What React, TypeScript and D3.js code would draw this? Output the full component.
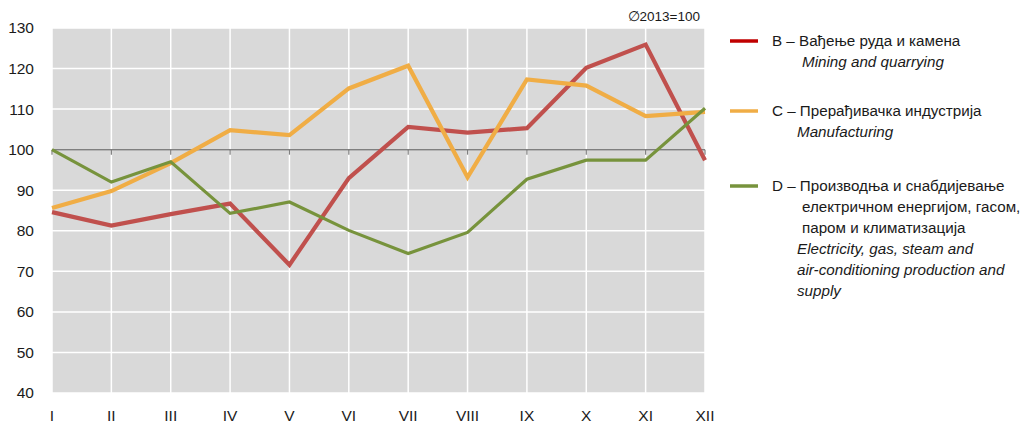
import React from "react";
import * as d3 from "d3";

const months = ["I", "II", "III", "IV", "V", "VI", "VII", "VIII", "IX", "X", "XI", "XII"];
const mining = [84.6, 81.3, 84.1, 86.7, 71.6, 93.0, 105.6, 104.2, 105.3, 120.2, 125.9, 97.4];
const manufacturing = [85.6, 89.8, 96.7, 104.8, 103.6, 115.1, 120.7, 93.2, 117.3, 115.8, 108.3, 109.3];
const energy = [100.0, 92.0, 97.0, 84.3, 87.1, 80.1, 74.4, 79.6, 92.7, 97.4, 97.4, 110.2];
const yTicks = [40, 50, 60, 70, 80, 90, 100, 110, 120, 130];

const seriesList = [
  { name: "B", values: mining, color: "#C0504D", width: 4.2 },
  { name: "C", values: manufacturing, color: "#F0AD45", width: 4.2 },
  { name: "D", values: energy, color: "#77933C", width: 3.2 },
];

const legendItems = [
  { color: "#C00000", y: 41, lines: [{ t: "B – Вађење руда и камена", x: 772, it: false }, { t: "Mining and quarrying", x: 802, it: true }] },
  { color: "#F0AD45", y: 111, lines: [{ t: "C – Прерађивачка индустрија", x: 772, it: false }, { t: "Manufacturing", x: 797, it: true }] },
  {
    color: "#77933C",
    y: 186,
    lines: [
      { t: "D – Производња и снабдијевање", x: 772, it: false },
      { t: "електричном енергијом, гасом,", x: 802, it: false },
      { t: "паром и климатизација", x: 802, it: false },
      { t: "Electricity, gas, steam and", x: 797, it: true },
      { t: "air-conditioning production and", x: 797, it: true },
      { t: "supply", x: 797, it: true },
    ],
  },
];

export default function App() {
  const W = 1023, H = 425;
  const left = 52, right = 705, top = 28, bottom = 393;
  const x = d3.scalePoint<string>().domain(months).range([left, right]);
  const y = d3.scaleLinear().domain([40, 130]).range([bottom, top]);
  const line = d3.line<number>().x((_, i) => x(months[i]) as number).y((d) => y(d));
  const font = "'Liberation Sans', Arial, sans-serif";

  return (
    <svg width={W} height={H} style={{ position: "absolute", left: 0, top: 0, background: "#fff" }} fontFamily={font}>
      <rect x={left} y={top} width={right - left} height={bottom - top} fill="#D9D9D9" />
      {yTicks.map((t) => (
        <line key={"h" + t} x1={left} x2={right} y1={y(t)} y2={y(t)} stroke="#fff" strokeWidth={1.5} />
      ))}
      {months.map((m) => (
        <line key={"v" + m} x1={x(m)} x2={x(m)} y1={top} y2={bottom} stroke="#fff" strokeWidth={1.5} />
      ))}
      <line x1={left} x2={right} y1={y(100)} y2={y(100)} stroke="#7F7F7F" strokeWidth={1.5} />
      {months.map((m) => (
        <line key={"t" + m} x1={x(m)} x2={x(m)} y1={y(100)} y2={y(100) + 5} stroke="#7F7F7F" strokeWidth={1.2} />
      ))}
      {seriesList.map((s) => (
        <path key={s.name} d={line(s.values) || ""} fill="none" stroke={s.color} strokeWidth={s.width} strokeLinejoin="miter" />
      ))}
      {yTicks.map((t) => (
        <text key={"yl" + t} x={34} y={y(t)} dy="0.35em" textAnchor="end" fontSize={15.5} fill="#1a1a1a">
          {t}
        </text>
      ))}
      {months.map((m) => (
        <text key={"xl" + m} x={x(m)} y={421} textAnchor="middle" fontSize={15.5} fill="#1a1a1a">
          {m}
        </text>
      ))}
      <text x={700} y={21} textAnchor="end" fontSize={13.5} fill="#1a1a1a">∅2013=100</text>
      {legendItems.map((it, k) => (
        <g key={"lg" + k}>
          <line x1={730} x2={758} y1={it.y} y2={it.y} stroke={it.color} strokeWidth={3.5} />
          {it.lines.map((l, j) => (
            <text key={j} x={l.x} y={it.y + j * 21} dy="0.35em" fontSize={15.2} fontStyle={l.it ? "italic" : "normal"} fill="#1a1a1a">
              {l.t}
            </text>
          ))}
        </g>
      ))}
    </svg>
  );
}
